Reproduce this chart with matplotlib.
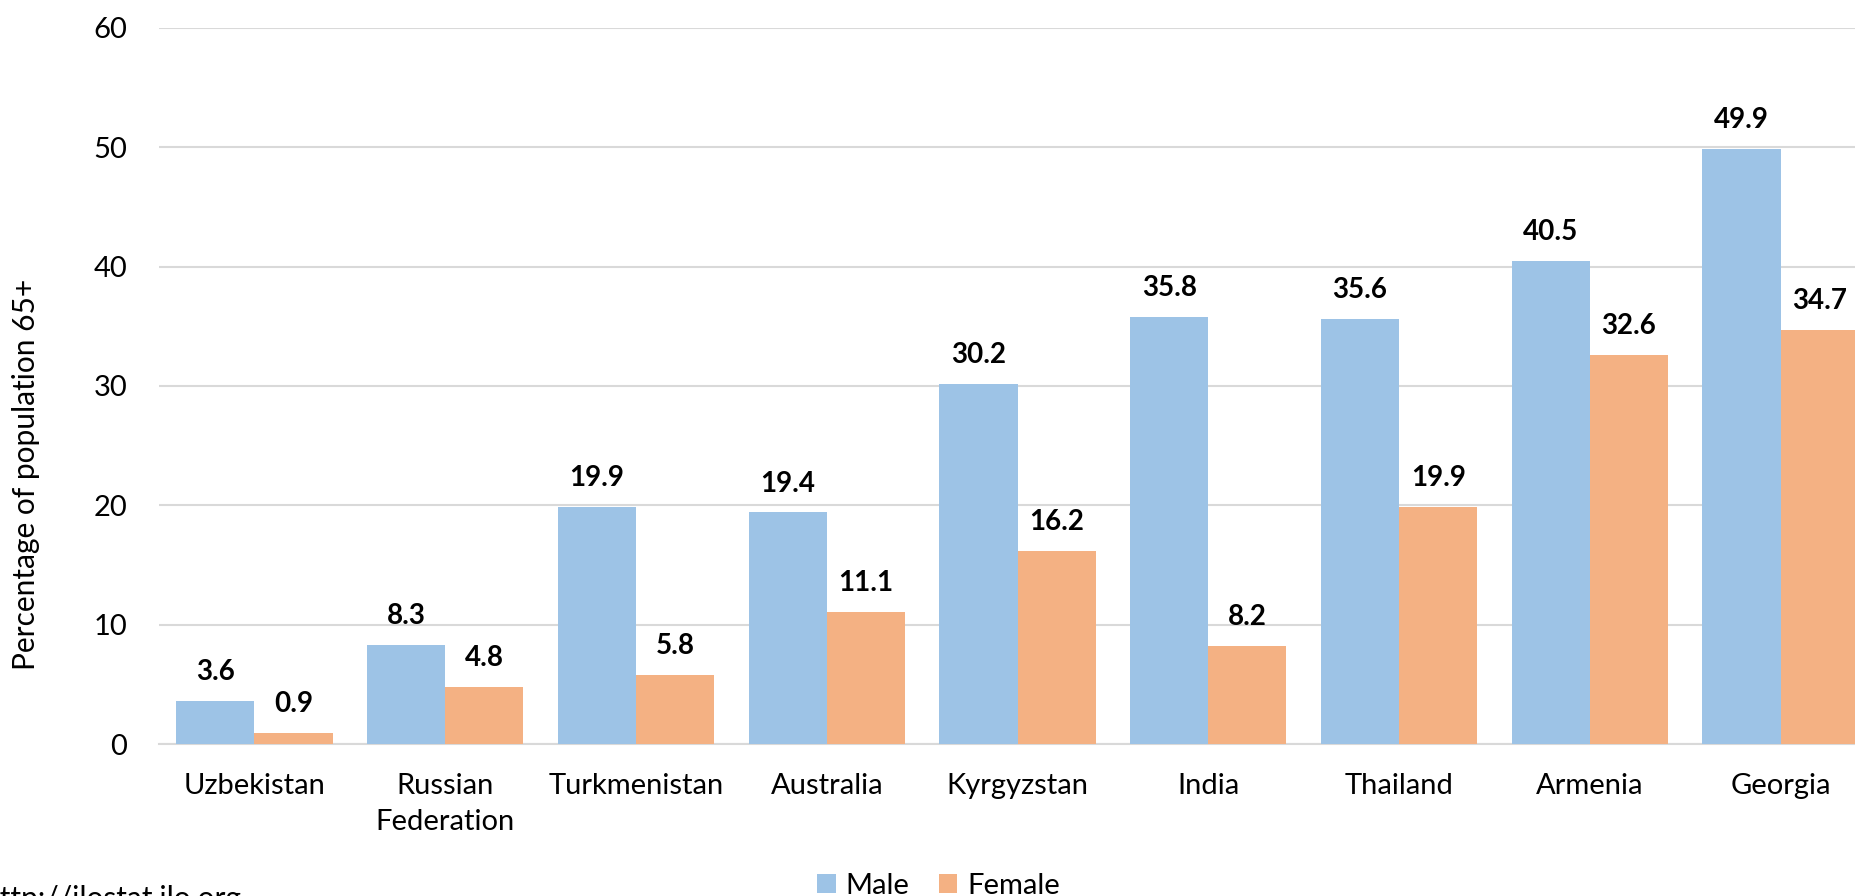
import matplotlib.pyplot as plt
import numpy as np

plt.rcParams['font.family'] = ['Lato', 'DejaVu Sans']

countries = ["Uzbekistan", "Russian\nFederation", "Turkmenistan", "Australia",
             "Kyrgyzstan", "India", "Thailand", "Armenia", "Georgia"]
male = [3.6, 8.3, 19.9, 19.4, 30.2, 35.8, 35.6, 40.5, 49.9]
female = [0.9, 4.8, 5.8, 11.1, 16.2, 8.2, 19.9, 32.6, 34.7]

blue = "#9DC3E6"
orange = "#F4B183"
grid = "#D9D9D9"

fig = plt.figure(figsize=(18.55, 8.96), dpi=100)
# the chart is wider than the picture: the right edge is cut off
ax = fig.add_axes([159 / 1855, 152 / 896, 1717 / 1855, 716 / 896])

x = np.arange(len(countries))
w = 0.41
b1 = ax.bar(x - w / 2, male, w, color=blue, label="Male", zorder=3)
b2 = ax.bar(x + w / 2, female, w, color=orange, label="Female", zorder=3)

for bars, vals in ((b1, male), (b2, female)):
    for r, v in zip(bars, vals):
        ax.annotate(f"{v:.1f}", (r.get_x() + r.get_width() / 2, v),
                    xytext=(0, 15), textcoords="offset points",
                    ha="center", va="baseline", fontsize=20, fontweight="bold",
                    clip_on=False)

ax.set_xlim(-0.5, len(countries) - 0.5)
ax.set_ylim(0, 60)
ax.set_yticks(np.arange(0, 61, 10))
ax.set_xticks(x, countries)
for lbl in ax.get_xticklabels():
    lbl.set_linespacing(1.45)
ax.yaxis.grid(True, color=grid, linewidth=1.5, zorder=0)
for s in ["top", "right", "left"]:
    ax.spines[s].set_visible(False)
ax.spines["bottom"].set_color(grid)
ax.spines["bottom"].set_linewidth(1.5)
ax.tick_params(axis="both", length=0, labelsize=21)
ax.tick_params(axis="x", pad=21)
ax.tick_params(axis="y", pad=23)
ax.set_ylabel("Percentage of population 65+", fontsize=21.5)
ax.yaxis.set_label_coords((40 - 159) / 1717, 0.377)

fig.legend(handles=[b1, b2], loc="center", bbox_to_anchor=(0.506, 10 / 896),
           ncol=2, frameon=False, fontsize=21, handlelength=0.62,
           handleheight=0.62, handletextpad=0.35, columnspacing=1.0)

fig.text(242 / 1855, 11 / 896, "http://ilostat.ilo.org", ha="right", va="top",
         fontsize=21.5)

fig.savefig("out.png", dpi=100)
